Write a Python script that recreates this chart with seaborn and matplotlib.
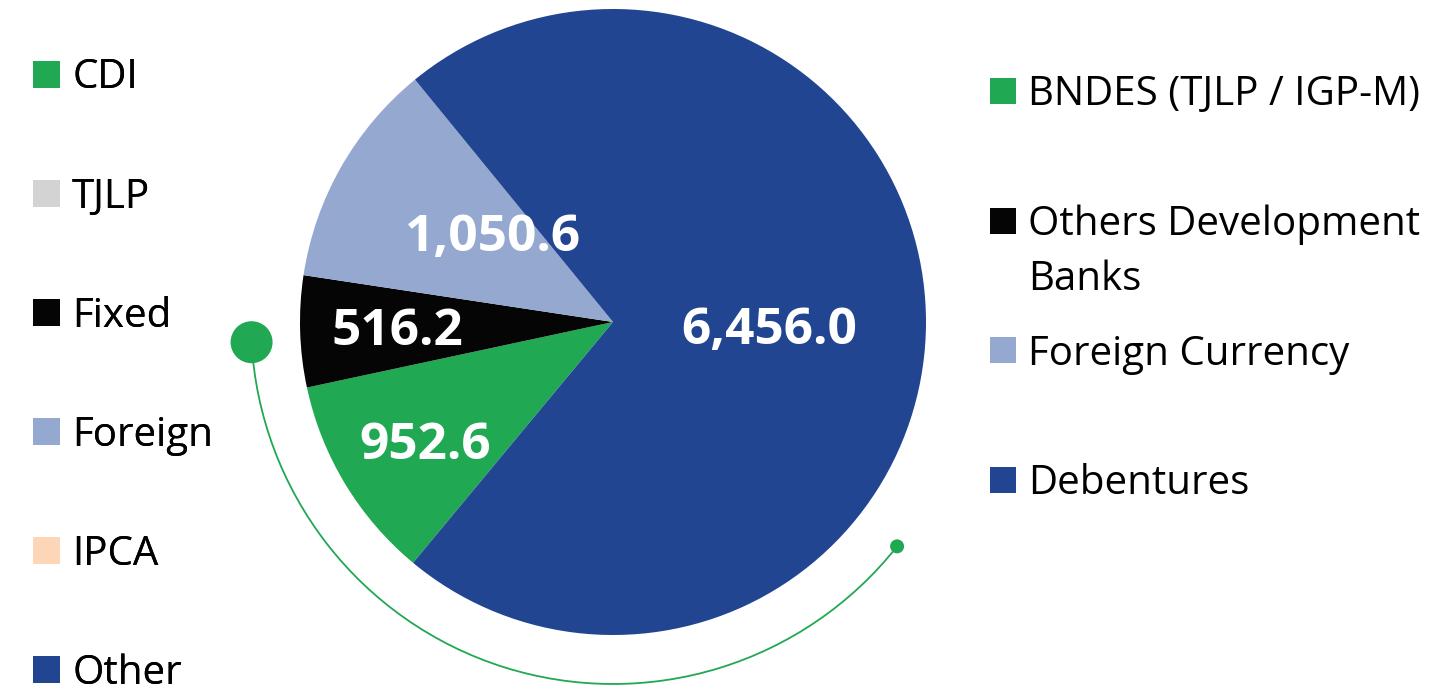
import numpy as np
import matplotlib
matplotlib.use("Agg")
import matplotlib.pyplot as plt
from matplotlib.patches import Patch, Arc, Circle, Rectangle
from matplotlib.legend_handler import HandlerPatch
import seaborn as sns

# Debt breakdown (R$ million)
categories = ["BNDES (TJLP / IGP-M)", "Others Development\nBanks", "Foreign Currency", "Debentures"]
values = [952.6, 516.2, 1050.6, 6456.0]
value_labels = ["952.6", "516.2", "1,050.6", "6,456.0"]

# Indexer categories shown in the side key
index_names = ["CDI", "TJLP", "Fixed", "Foreign", "IPCA", "Other"]

GREEN = "#21A852"
BLACK = "#050505"
LIGHT_BLUE = "#94A8D0"
DARK_BLUE = "#224592"
GRAY = "#D3D3D3"
PEACH = "#FDD5B7"

slice_colors = sns.color_palette([GREEN, BLACK, LIGHT_BLUE, DARK_BLUE])
index_colors = sns.color_palette([GREEN, GRAY, BLACK, LIGHT_BLUE, PEACH, DARK_BLUE])

sns.set_theme(style="white")
plt.rcParams["font.family"] = ["Open Sans", "DejaVu Sans"]
plt.rcParams["text.color"] = "black"

W, H = 1440, 686
fig = plt.figure(figsize=(W / 100, H / 100), dpi=100)
ax = fig.add_axes([0, 0, 1, 1])

cx, cy, R = 613, H - 322, 313
wedges, _ = ax.pie(values, colors=slice_colors, startangle=230.3, counterclock=False,
                   center=(cx, cy), radius=R,
                   wedgeprops=dict(linewidth=0, edgecolor="none"))
ax.set_xlim(0, W)
ax.set_ylim(0, H)
ax.set_aspect("equal")
ax.axis("off")

# value labels placed along each wedge's bisector
label_radius = [0.71, 0.69, 0.48, 0.50]
label_turn = [1.0, -0.7, -7.0, -1.0]
for w, txt, rf, dt in zip(wedges, value_labels, label_radius, label_turn):
    mid = np.deg2rad((w.theta1 + w.theta2) / 2 + dt)
    ax.text(cx + rf * R * np.cos(mid), cy + rf * R * np.sin(mid), txt,
            color="white", fontsize=37, fontweight="bold",
            ha="center", va="center_baseline")

# decorative arc with end markers
arc_r = 362
a0, a1 = 183.2, 321.7
ax.add_patch(Arc((cx, cy), 2 * arc_r, 2 * arc_r, theta1=a0, theta2=a1,
                 color=GREEN, lw=1.3))
ax.add_patch(Circle((cx + arc_r * np.cos(np.deg2rad(a0)), cy + arc_r * np.sin(np.deg2rad(a0))),
                    21, color=GREEN, lw=0))
ax.add_patch(Circle((cx + arc_r * np.cos(np.deg2rad(a1)), cy + arc_r * np.sin(np.deg2rad(a1))),
                    7, color=GREEN, lw=0))


class SquareHandler(HandlerPatch):
    """Square key drawn at the handle's full height."""

    def create_artists(self, legend, orig_handle, xdescent, ydescent,
                       width, height, fontsize, trans):
        side = min(width, height)
        p = Rectangle((-xdescent, -ydescent + (height - side) / 2), side, side,
                      facecolor=orig_handle.get_facecolor(), edgecolor="none",
                      transform=trans)
        return [p]


KEY_FS = 29
LINE_PITCH = 55  # pixels between wrapped lines of a key label

# left key
left_handles = [Patch(facecolor=c, edgecolor="none") for c in index_colors]
leg_l = fig.legend(left_handles, index_names, loc="upper left",
                   bbox_to_anchor=(33 / W, 1 - 58 / H), frameon=False,
                   fontsize=KEY_FS, handlelength=0.67, handleheight=0.67,
                   handletextpad=0.3, labelspacing=1.95, borderpad=0, borderaxespad=0,
                   handler_map={Patch: SquareHandler()})
fig.add_artist(leg_l)

# right key: first line of each name sits in the key row, extra lines hang below it
right_handles = [Patch(facecolor=c, edgecolor="none") for c in slice_colors]
first_lines = [c.split("\n")[0] for c in categories]
leg_r = fig.legend(right_handles, first_lines, loc="upper left",
                   bbox_to_anchor=(990 / W, 1 - 75 / H), frameon=False,
                   fontsize=KEY_FS, handlelength=0.65, handleheight=0.65,
                   handletextpad=0.3, labelspacing=2.21, borderpad=0, borderaxespad=0,
                   handler_map={Patch: SquareHandler()})

fig.canvas.draw()
for t, full in zip(leg_r.get_texts(), categories):
    bb = t.get_window_extent()
    for k, extra in enumerate(full.split("\n")[1:], start=1):
        fig.text(bb.x0 / W, (bb.y0 - LINE_PITCH * k) / H, extra,
                 fontsize=KEY_FS, ha="left", va="bottom")

fig.savefig("out.png", dpi=100)
